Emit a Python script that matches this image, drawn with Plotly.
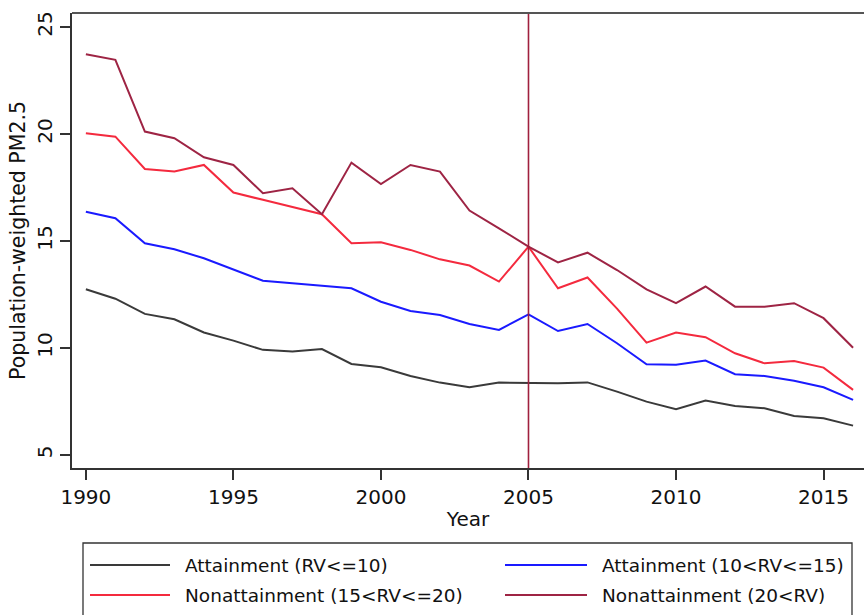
import plotly.graph_objects as go

# Population-weighted PM2.5 by attainment group, 1990-2016
years = list(range(1990, 2017))

attain_low = [12.74, 12.30, 11.59, 11.34, 10.72, 10.34, 9.91, 9.83, 9.95, 9.25,
              9.10, 8.69, 8.38, 8.16, 8.38, 8.35, 8.35, 8.39, 7.96, 7.49,
              7.14, 7.54, 7.29, 7.18, 6.82, 6.71, 6.37]
attain_high = [16.36, 16.06, 14.89, 14.61, 14.19, 13.68, 13.14, 13.02, 12.90, 12.79,
               12.16, 11.73, 11.54, 11.12, 10.84, 11.57, 10.79, 11.12, 10.22, 9.24,
               9.21, 9.41, 8.77, 8.69, 8.47, 8.16, 7.57]
nonattain_mid = [20.03, 19.87, 18.36, 18.24, 18.55, 17.26, 16.92, 16.60, 16.25, 14.89,
                 14.94, 14.58, 14.14, 13.85, 13.10, 14.73, 12.79, 13.29, 11.84, 10.25,
                 10.72, 10.50, 9.75, 9.28, 9.39, 9.08, 8.04]
nonattain_high = [23.72, 23.46, 20.11, 19.80, 18.91, 18.55, 17.23, 17.46, 16.25, 18.66,
                  17.66, 18.55, 18.24, 16.42, 15.59, 14.73, 14.00, 14.45, 13.64, 12.74,
                  12.09, 12.87, 11.93, 11.93, 12.09, 11.39, 10.01]

series_names = ["Attainment (RV<=10)", "Attainment (10<RV<=15)",
                "Nonattainment (15<RV<=20)", "Nonattainment (20<RV)"]
series_values = [attain_low, attain_high, nonattain_mid, nonattain_high]
series_colors = ["#3a3a3a", "#1a1aff", "#f42a3e", "#9e2444"]

policy_year = 2005
x_ticks = [1990, 1995, 2000, 2005, 2010, 2015]
y_ticks = [5, 10, 15, 20, 25]

FONT = "DejaVu Sans"
FS = 20
FS_LEGEND = 18.5
W, H = 864, 615
M_L, M_R, M_T, M_B = 72, 0, 13, 147
PW, PH = W - M_L - M_R, H - M_T - M_B


def px_x(p):
    return (p - M_L) / PW


def px_y(p):
    return (H - M_B - p) / PH


fig = go.Figure()
for name, vals, col in zip(series_names, series_values, series_colors):
    fig.add_trace(go.Scatter(x=years, y=vals, mode="lines", name=name,
                             line=dict(color=col, width=2), showlegend=False))

shapes = [
    # reference line
    dict(type="line", xref="x", yref="paper", x0=policy_year, x1=policy_year,
         y0=0, y1=1, line=dict(color="#a0203e", width=1.6), layer="above"),
    # top frame line
    dict(type="line", xref="paper", yref="paper", x0=0, x1=1, y0=1, y1=1,
         line=dict(color="#555555", width=2)),
    # legend box
    dict(type="rect", xref="paper", yref="paper", x0=px_x(83), x1=px_x(852),
         y0=px_y(543), y1=px_y(640), line=dict(color="#333333", width=1.3)),
]

annotations = []
legend_slots = [(90, 170, 183, 565), (505, 587, 600, 565),
                (90, 170, 183, 595), (505, 587, 600, 595)]
for (lx0, lx1, tx, ty), name, col in zip(legend_slots, series_names, series_colors):
    shapes.append(dict(type="line", xref="paper", yref="paper",
                       x0=px_x(lx0), x1=px_x(lx1), y0=px_y(ty), y1=px_y(ty),
                       line=dict(color=col, width=2)))
    annotations.append(dict(text=name, xref="paper", yref="paper",
                            x=px_x(tx), y=px_y(ty), xanchor="left", yanchor="middle",
                            showarrow=False,
                            font=dict(family=FONT, size=FS_LEGEND, color="#111111")))

fig.update_layout(
    width=W, height=H,
    margin=dict(l=M_L, r=M_R, t=M_T, b=M_B),
    paper_bgcolor="white", plot_bgcolor="white",
    font=dict(family=FONT, size=FS, color="#111111"),
    shapes=shapes, annotations=annotations,
    xaxis=dict(range=[1989.53, 2016.37], tickvals=x_ticks, ticks="outside",
               ticklen=10, tickwidth=1.5, tickcolor="#333333",
               showline=True, linecolor="#333333", linewidth=2,
               showgrid=False, zeroline=False,
               title=dict(text="Year", standoff=4, font=dict(size=FS))),
    yaxis=dict(range=[4.39, 25.65], tickvals=y_ticks, ticks="outside",
               ticklen=10, tickwidth=1.5, tickcolor="#333333", tickangle=-90,
               showline=True, linecolor="#333333", linewidth=2,
               showgrid=False, zeroline=False,
               title=dict(text="Population-weighted PM2.5", standoff=2,
                          font=dict(size=20.5))),
)

fig.write_html("out.html")
